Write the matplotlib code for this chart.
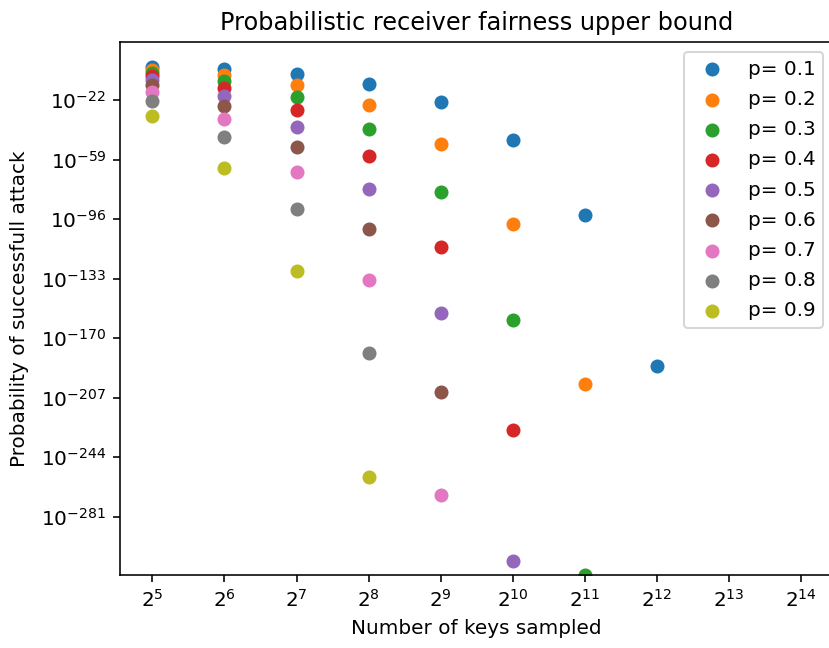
import numpy as np
import matplotlib
matplotlib.use("Agg")
import matplotlib.pyplot as plt
from matplotlib.ticker import FixedLocator, NullLocator, LogFormatterSciNotation

# number of keys sampled (x) and log10 of the attack probability
n_keys = [32, 64, 128, 256, 512, 1024, 2048, 4096]
p_labels = ["p= 0.1", "p= 0.2", "p= 0.3", "p= 0.4", "p= 0.5",
            "p= 0.6", "p= 0.7", "p= 0.8", "p= 0.9"]
exp_p01 = [-1.5, -2.9, -5.9, -11.7, -23.4, -46.9, -93.7, -187.4]
exp_p02 = [-3.1, -6.2, -12.4, -24.8, -49.6, -99.2, -198.5]
exp_p03 = [-5.0, -9.9, -19.8, -39.7, -79.3, -158.6, -317.2]
exp_p04 = [-7.1, -14.2, -28.4, -56.8, -113.6, -227.2]
exp_p05 = [-9.6, -19.3, -38.5, -77.1, -154.1, -308.3]
exp_p06 = [-12.7, -25.5, -50.9, -101.9, -203.7]
exp_p07 = [-16.7, -33.5, -66.9, -133.9, -267.7]
exp_p08 = [-22.4, -44.7, -89.5, -178.9]
exp_p09 = [-32.0, -64.0, -128.0, -256.0]
ytick_exps = [-22, -59, -96, -133, -170, -207, -244, -281]

series = [exp_p01, exp_p02, exp_p03, exp_p04, exp_p05,
          exp_p06, exp_p07, exp_p08, exp_p09]

dpi = 144
fig = plt.figure(figsize=(829 / dpi, 648 / dpi), dpi=dpi)
# axes box in pixels: left 120, right ~833 (cut by the image edge), top 42, bottom 575
ax = fig.add_axes([120 / 829, (648 - 575) / 648, 713.4 / 829, 533.3 / 648])

for exps, lab in zip(series, p_labels):
    xs = n_keys[:len(exps)]
    ys = [10.0 ** e for e in exps]
    ax.scatter(xs, ys, label=lab)

ax.set_xscale("log", base=2)
ax.set_yscale("log")

all_exp = [e for s in series for e in s]
lo, hi = min(all_exp), max(all_exp)
ax.set_ylim(10.0 ** lo, 10.0 ** (hi + 0.05 * (hi - lo)))
ax.set_xlim(2 ** 4.55, 2 ** 14.45)

ax.xaxis.set_major_locator(FixedLocator([2.0 ** k for k in range(5, 15)]))
ax.xaxis.set_major_formatter(LogFormatterSciNotation(base=2))
ax.xaxis.set_minor_locator(NullLocator())
ax.yaxis.set_major_locator(FixedLocator([10.0 ** e for e in ytick_exps]))
ax.yaxis.set_major_formatter(LogFormatterSciNotation(base=10))
ax.yaxis.set_minor_locator(NullLocator())

ax.set_title("Probabilistic receiver fairness upper bound")
ax.set_xlabel("Number of keys sampled")
ax.set_ylabel("Probability of successfull attack", labelpad=6)
ax.legend(loc="upper right", labelspacing=0.56)

fig.savefig("out.png", dpi=dpi)
